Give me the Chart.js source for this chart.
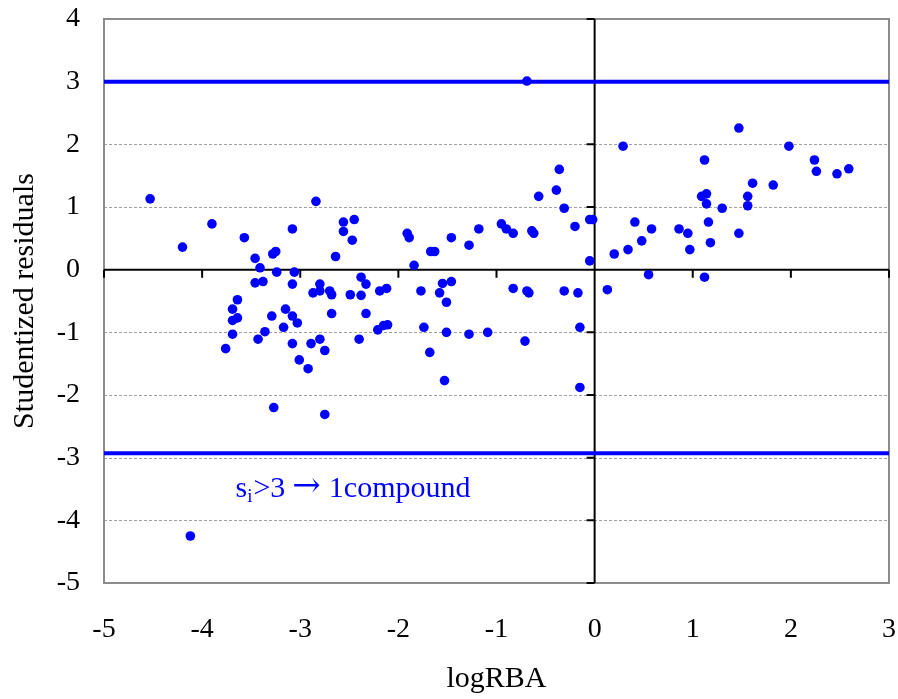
<!DOCTYPE html>
<html>
<head>
<meta charset="utf-8">
<title>Studentized residuals vs logRBA</title>
<script src="https://cdn.jsdelivr.net/npm/chart.js@4.4.1/dist/chart.umd.min.js"></script>
<style>
    html, body { margin: 0; padding: 0; background: #fff; }
    #wrap { width: 898px; height: 699px; }
</style>
</head>
<body>
<div id="wrap"><canvas id="resid"></canvas></div>
<script>
// logRBA of each compound
const logRBA = [
    -4.53, -4.20, -3.90, -4.12, -3.57, -3.08, -2.84, -2.56, -2.56, -2.64,
    -3.46, -3.41, -3.28, -3.25, -3.24, -3.06, -3.46, -3.38, -3.08, -2.80,
    -2.80, -2.87, -2.70, -2.68, -2.49, -3.64, -3.69, -3.69, -3.64, -3.69,
    -3.76, -3.29, -3.15, -3.08, -3.03, -3.17, -3.36, -3.43, -3.08, -2.89,
    -2.80, -2.75, -2.68, -3.01, -2.92, -3.27, -2.75, -2.45, -2.47, -2.38,
    -2.33, -2.38, -2.33, -2.40, -2.19, -2.12, -2.21, -2.15, -2.11, -1.91,
    -1.89, -1.84, -1.77, -1.74, -1.68, -1.67, -1.63, -1.55, -1.58, -1.46,
    -1.51, -1.51, -1.53, -1.46, -1.28, -1.18, -1.28, -1.09, -0.95, -0.90,
    -0.83, -0.83, -0.69, -0.67, -0.71, -0.64, -0.62, -0.57, -0.39, -0.36,
    -0.31, -0.31, -0.20, -0.17, -0.15, -0.15, -0.05, -0.02, -0.05, -0.69,
    0.29, 0.20, 0.34, 0.41, 0.48, 0.58, 0.55, 0.13, 0.86, 0.95,
    0.97, 1.12, 1.09, 1.14, 1.14, 1.16, 1.18, 1.12, 1.30, 1.47,
    1.47, 1.61, 1.56, 1.56, 1.82, 1.98, 2.24, 2.26, 2.47, 2.59
];

// studentized residual of each compound (same order)
const residuals = [
    1.13, 0.36, 0.73, -4.25, 0.51, 0.65, 1.09, 0.76, 0.61, 0.21,
    0.18, 0.03, 0.25, 0.29, -0.04, -0.04, -0.21, -0.19, -0.23, -0.23,
    -0.34, -0.37, -0.34, -0.40, -0.40, -0.48, -0.63, -0.81, -0.77, -1.03,
    -1.26, -0.74, -0.63, -0.74, -0.85, -0.92, -0.99, -1.11, -1.18, -1.18,
    -1.11, -1.29, -0.70, -1.44, -1.58, -2.20, -2.31, 0.80, 0.47, -0.12,
    -0.23, -0.41, -0.70, -1.11, -0.34, -0.30, -0.96, -0.89, -0.88, 0.58,
    0.51, 0.07, -0.34, -0.92, -1.32, 0.29, 0.29, -0.22, -0.37, -0.19,
    -0.52, -1.00, -1.77, 0.51, 0.39, 0.65, -1.03, -1.00, 0.73, 0.65,
    0.58, -0.30, -0.34, -0.37, -1.14, 0.62, 0.58, 1.17, 1.27, 1.60,
    0.98, -0.34, 0.69, -0.37, -0.92, -1.88, 0.80, 0.80, 0.14, 3.01,
    1.97, 0.25, 0.32, 0.76, 0.46, 0.65, -0.08, -0.32, 0.65, 0.58,
    0.32, 1.75, 1.17, 1.21, 1.05, 0.76, 0.43, -0.12, 0.98, 2.26,
    0.58, 1.38, 1.17, 1.02, 1.35, 1.97, 1.75, 1.57, 1.53, 1.61
];

// cut-off lines and axis ranges
const upperLimit = 3;
const lowerLimit = -2.93;
const xRange = [-5, 3];
const yRange = [-5, 4];

const BLUE = '#0000ff';
const FONT = "'Liberation Serif', 'Times New Roman', serif";

// frame, dashed grid and the black zero axes with their tick marks
const axesPlugin = {
    id: 'axesPlugin',
    beforeDatasetsDraw(chart) {
        const { ctx, chartArea: a, scales: { x, y } } = chart;
        ctx.save();

        // dashed horizontal grid
        ctx.strokeStyle = '#a0a0a0';
        ctx.lineWidth = 1;
        ctx.setLineDash([3, 2]);
        for (let v = yRange[0] + 1; v < yRange[1]; v++) {
            if (v === 0) continue;
            const py = Math.round(y.getPixelForValue(v)) + 0.5;
            ctx.beginPath();
            ctx.moveTo(a.left, py);
            ctx.lineTo(a.right, py);
            ctx.stroke();
        }
        ctx.setLineDash([]);

        // grey frame
        ctx.strokeStyle = '#8c8c8c';
        ctx.lineWidth = 2;
        ctx.strokeRect(a.left, a.top, a.right - a.left, a.bottom - a.top);

        // zero axes
        const x0 = x.getPixelForValue(0);
        const y0 = y.getPixelForValue(0);
        ctx.strokeStyle = '#000';
        ctx.lineWidth = 2;
        ctx.beginPath();
        ctx.moveTo(a.left, y0);
        ctx.lineTo(a.right, y0);
        ctx.moveTo(x0, a.top);
        ctx.lineTo(x0, a.bottom);
        for (let v = xRange[0]; v <= xRange[1]; v++) {
            const px = x.getPixelForValue(v);
            ctx.moveTo(px, y0);
            ctx.lineTo(px, y0 + 8);
        }
        for (let v = yRange[0]; v <= yRange[1]; v++) {
            const py = y.getPixelForValue(v);
            ctx.moveTo(x0 - 8, py);
            ctx.lineTo(x0, py);
        }
        ctx.stroke();
        ctx.restore();
    },
    afterDatasetsDraw(chart) {
        // note under the lower cut-off line: s_i>3 -> 1compound
        const { ctx, scales: { x, y } } = chart;
        let px = x.getPixelForValue(-3.66);
        const py = y.getPixelForValue(-3.63);
        ctx.save();
        ctx.fillStyle = BLUE;
        ctx.textBaseline = 'alphabetic';
        ctx.font = '30px ' + FONT;
        ctx.fillText('s', px, py);
        px += ctx.measureText('s').width;
        ctx.font = '19px ' + FONT;
        ctx.fillText('i', px, py + 5);
        px += ctx.measureText('i').width + 1;
        ctx.font = '30px ' + FONT;
        ctx.fillText('>3', px, py);
        px += ctx.measureText('>3').width + 7;
        ctx.font = "34px 'DejaVu Serif', serif";
        ctx.fillText('\u2192', px, py - 1);
        px += ctx.measureText('\u2192').width + 8;
        ctx.font = '30px ' + FONT;
        ctx.fillText('1compound', px, py);
        ctx.restore();
    }
};

const points = logRBA.map((v, i) => ({ x: v, y: residuals[i] }));

new Chart(document.getElementById('resid'), {
    type: 'scatter',
    data: {
        datasets: [
            {
                label: 'compounds',
                data: points,
                backgroundColor: BLUE,
                borderWidth: 0,
                pointRadius: 4.8,
                pointHoverRadius: 4.8
            },
            {
                label: 'upper',
                data: [{ x: xRange[0], y: upperLimit }, { x: xRange[1], y: upperLimit }],
                showLine: true,
                borderColor: BLUE,
                borderWidth: 4,
                pointRadius: 0
            },
            {
                label: 'lower',
                data: [{ x: xRange[0], y: lowerLimit }, { x: xRange[1], y: lowerLimit }],
                showLine: true,
                borderColor: BLUE,
                borderWidth: 4,
                pointRadius: 0
            }
        ]
    },
    options: {
        responsive: true,
        maintainAspectRatio: false,
        animation: false,
        layout: { padding: { top: 19, right: 9, left: 0, bottom: 0 } },
        plugins: {
            legend: { display: false },
            tooltip: { enabled: false }
        },
        scales: {
            x: {
                type: 'linear',
                min: xRange[0],
                max: xRange[1],
                afterFit: s => {
                    s.height = 116;
                    s.paddingLeft = 0;
                    s.paddingRight = 0;
                },
                grid: { display: false, drawTicks: false },
                border: { display: false },
                ticks: {
                    stepSize: 1,
                    padding: 30,
                    color: '#000',
                    font: { family: FONT, size: 28 }
                },
                title: {
                    display: true,
                    text: 'logRBA',
                    color: '#000',
                    padding: { top: 2, bottom: 2 },
                    font: { family: FONT, size: 30 }
                }
            },
            y: {
                type: 'linear',
                min: yRange[0],
                max: yRange[1],
                afterFit: s => {
                    s.width = 104;
                    s.paddingTop = 0;
                    s.paddingBottom = 0;
                },
                grid: { display: false, drawTicks: false },
                border: { display: false },
                ticks: {
                    stepSize: 1,
                    padding: 24,
                    color: '#000',
                    font: { family: FONT, size: 28 }
                },
                title: {
                    display: true,
                    text: 'Studentized residuals',
                    color: '#000',
                    padding: { top: 7, bottom: 0 },
                    font: { family: FONT, size: 30 }
                }
            }
        }
    },
    plugins: [axesPlugin]
});
</script>
</body>
</html>
